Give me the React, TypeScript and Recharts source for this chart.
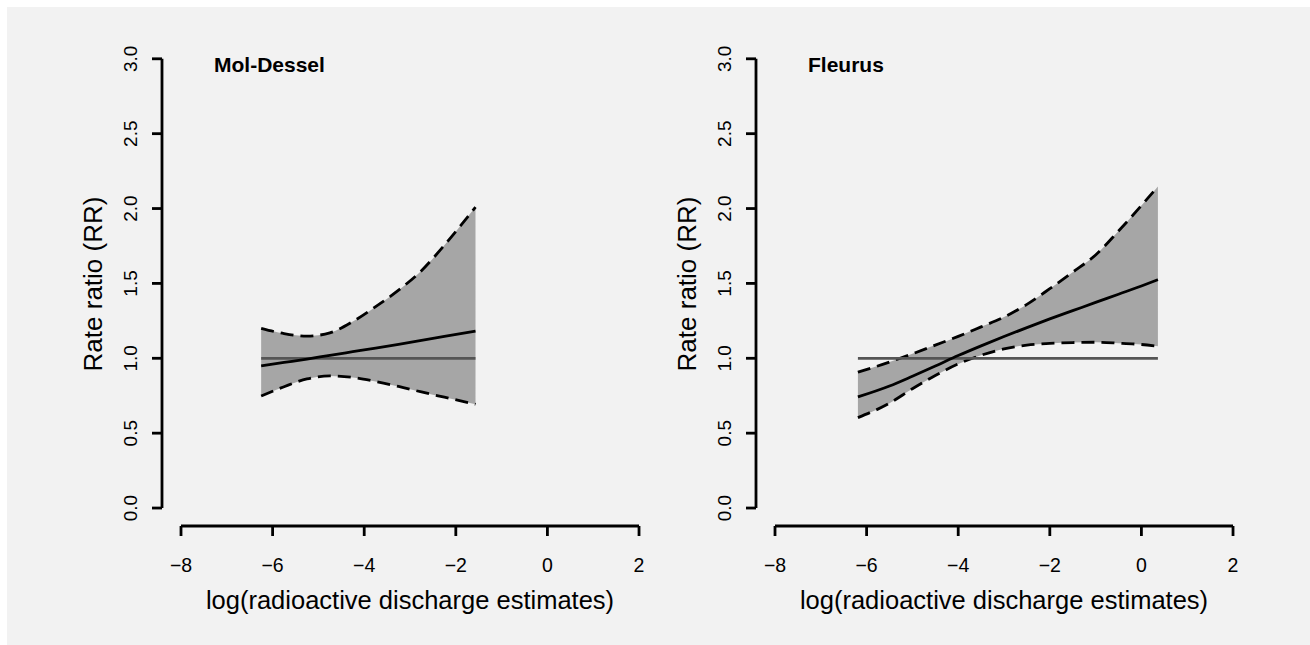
import React from 'react';
import { ComposedChart, Area, Line, XAxis, YAxis, ReferenceLine, Label } from 'recharts';

const FONT = "'Liberation Sans', Arial, Helvetica, sans-serif";

// ---- Data ----
const panelTitles = ['Mol-Dessel', 'Fleurus'];
const xAxisTitle = 'log(radioactive discharge estimates)';
const yAxisTitle = 'Rate ratio (RR)';
const xTicks = [-8, -6, -4, -2, 0, 2];
const yTicks = [0, 0.5, 1, 1.5, 2, 2.5, 3];

const molX = [-6.25, -5.75, -5.25, -4.75, -4.25, -3.75, -3.25, -2.75, -2.25, -1.57];
const molUpper = [1.2, 1.165, 1.148, 1.17, 1.245, 1.345, 1.455, 1.585, 1.755, 2.01];
const molLower = [0.748, 0.81, 0.862, 0.882, 0.872, 0.845, 0.812, 0.775, 0.74, 0.693];
const molFit = [0.949, 0.972, 0.995, 1.02, 1.044, 1.068, 1.093, 1.119, 1.146, 1.182];

const flX = [-6.19, -5.5, -5.0, -4.5, -4.0, -3.5, -3.0, -2.5, -2.0, -1.5, -1.0, -0.5, 0.0, 0.36];
const flUpper = [0.907, 0.975, 1.03, 1.088, 1.146, 1.21, 1.275, 1.36, 1.465, 1.575, 1.69, 1.85, 2.02, 2.148];
const flLower = [0.604, 0.7, 0.797, 0.885, 0.962, 1.02, 1.063, 1.088, 1.099, 1.105, 1.107, 1.101, 1.092, 1.08];
const flFit = [0.742, 0.815, 0.88, 0.948, 1.018, 1.083, 1.145, 1.205, 1.263, 1.318, 1.373, 1.428, 1.483, 1.525];

const refValue = 1.0;

// ---- Layout ----
const W = 655;
const H = 645;
const X_DOMAIN: [number, number] = [-8.415, 2.1];
const Y_DOMAIN: [number, number] = [-0.12, 3.0];
const LW = 2.8;

const fmtX = (v: number) => (v < 0 ? '\u2212' + Math.abs(v) : String(v));

const XTick = (props: any) => {
  const { x, payload } = props;
  return (
    <text x={x} y={571.5} textAnchor="middle" fontFamily={FONT} fontSize={19.5} fill="#000">
      {fmtX(payload.value)}
    </text>
  );
};

const YTick = (props: any) => {
  const { y, payload } = props;
  const bx = 137.5;
  return (
    <text
      x={bx}
      y={y}
      transform={`rotate(-90, ${bx}, ${y})`}
      textAnchor="middle"
      fontFamily={FONT}
      fontSize={19}
      fill="#000"
    >
      {Number(payload.value).toFixed(1)}
    </text>
  );
};

type PanelProps = {
  title: string;
  xs: number[];
  lo: number[];
  hi: number[];
  fit: number[];
  left: number;
};

const Panel = ({ title, xs, lo, hi, fit, left }: PanelProps) => {
  const rows = xs.map((x, i) => ({ x, lo: lo[i], hi: hi[i], band: [lo[i], hi[i]], fit: fit[i] }));
  const xMin = xs[0];
  const xMax = xs[xs.length - 1];
  return (
    <div style={{ position: 'absolute', left, top: 0, width: W, height: H }}>
      <ComposedChart
        width={W}
        height={H}
        data={rows}
        margin={{ top: 58.8, right: 11.4, left: 0, bottom: 0 }}
      >
        <XAxis
          type="number"
          dataKey="x"
          domain={X_DOMAIN}
          ticks={xTicks}
          interval={0}
          allowDataOverflow
          axisLine={false}
          tickLine={{ stroke: '#000', strokeWidth: LW }}
          tickSize={10}
          height={119}
          tick={XTick}
        >
          <Label
            content={() => (
              <text x={410} y={609} textAnchor="middle" fontFamily={FONT} fontSize={25.5} fill="#000">
                {xAxisTitle}
              </text>
            )}
          />
        </XAxis>
        <YAxis
          type="number"
          domain={Y_DOMAIN}
          ticks={yTicks}
          interval={0}
          allowDataOverflow
          axisLine={false}
          tickLine={{ stroke: '#000', strokeWidth: LW }}
          tickSize={10}
          width={162}
          tick={YTick}
        >
          <Label
            content={() => (
              <g>
                <text
                  x={102}
                  y={284}
                  transform={`rotate(-90, 102, 284)`}
                  textAnchor="middle"
                  fontFamily={FONT}
                  fontSize={26}
                  fill="#000"
                >
                  {yAxisTitle}
                </text>
                <text x={214} y={71.7} fontFamily={FONT} fontSize={21} fontWeight="bold" fill="#000">
                  {title}
                </text>
              </g>
            )}
          />
        </YAxis>
        <Area
          type="monotone"
          dataKey="band"
          stroke="none"
          fill="#a6a6a6"
          fillOpacity={1}
          isAnimationActive={false}
          dot={false}
          activeDot={false}
        />
        <Line
          type="monotone"
          dataKey="hi"
          stroke="#000"
          strokeWidth={LW}
          strokeDasharray="13 7"
          dot={false}
          activeDot={false}
          isAnimationActive={false}
        />
        <Line
          type="monotone"
          dataKey="lo"
          stroke="#000"
          strokeWidth={LW}
          strokeDasharray="13 7"
          dot={false}
          activeDot={false}
          isAnimationActive={false}
        />
        <ReferenceLine
          segment={[{ x: xMin, y: refValue }, { x: xMax, y: refValue }]}
          stroke="#555"
          strokeWidth={LW}
          ifOverflow="visible"
        />
        <Line
          type="monotone"
          dataKey="fit"
          stroke="#000"
          strokeWidth={LW}
          dot={false}
          activeDot={false}
          isAnimationActive={false}
        />
        <ReferenceLine
          segment={[{ x: X_DOMAIN[0], y: yTicks[0] }, { x: X_DOMAIN[0], y: yTicks[yTicks.length - 1] }]}
          stroke="#000"
          strokeWidth={LW}
          ifOverflow="visible"
        />
        <ReferenceLine
          segment={[{ x: xTicks[0], y: Y_DOMAIN[0] }, { x: xTicks[xTicks.length - 1], y: Y_DOMAIN[0] }]}
          stroke="#000"
          strokeWidth={LW}
          ifOverflow="visible"
        />
      </ComposedChart>
    </div>
  );
}

export default function App() {
  return (
    <div style={{ position: 'absolute', left: 0, top: 0, width: 1310, height: 645, background: '#fff', overflow: 'hidden' }}>
      <div style={{ position: 'absolute', left: 7, top: 7, width: 1303, height: 638, background: '#f2f2f2' }} />
      <Panel title={panelTitles[0]} xs={molX} lo={molLower} hi={molUpper} fit={molFit} left={0} />
      <Panel title={panelTitles[1]} xs={flX} lo={flLower} hi={flUpper} fit={flFit} left={594} />
    </div>
  );
}
